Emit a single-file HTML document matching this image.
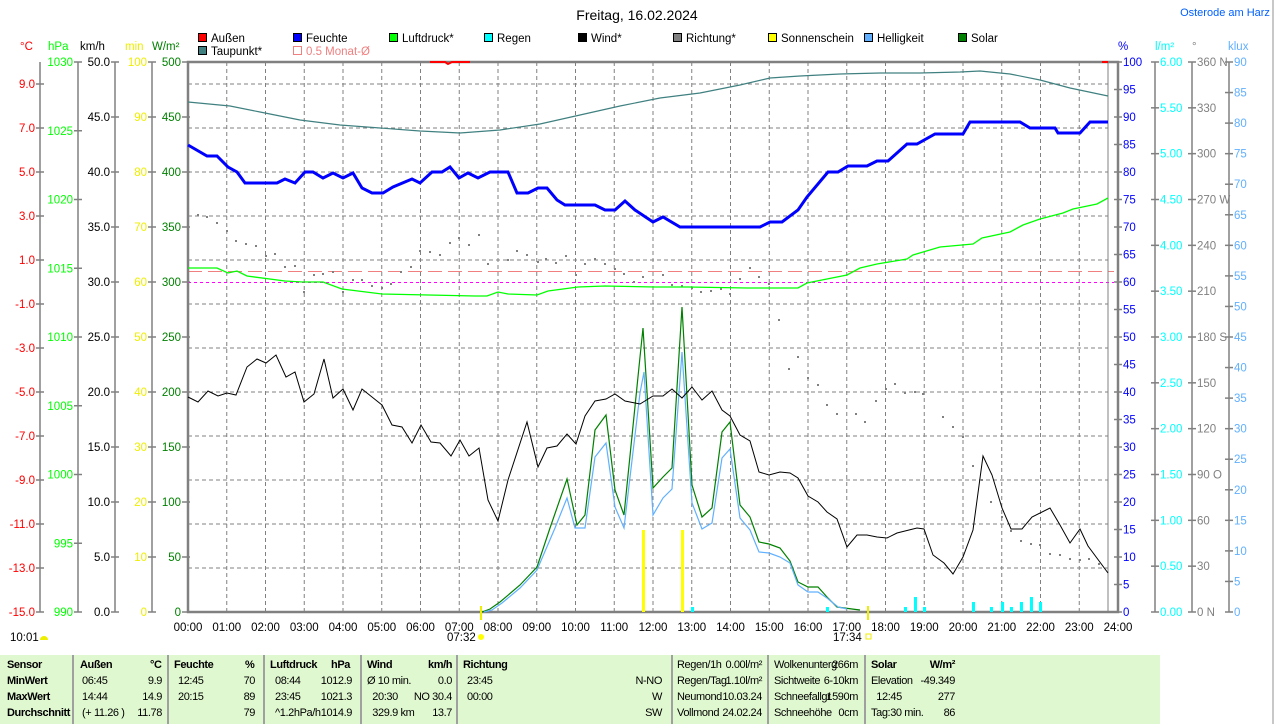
<!DOCTYPE html>
<html><head><meta charset="utf-8"><style>
body{margin:0;background:#fff;width:1274px;height:724px;overflow:hidden;font-family:"Liberation Sans",sans-serif}
svg text{font-family:"Liberation Sans",sans-serif;font-size:11.5px}
.tb{position:absolute;left:0;top:655px;width:1160px;height:69px;background:#e0f8d0}
.c{position:absolute;top:0;height:69px;border-left:2px solid #a0a0a0}
.t{position:absolute;font-size:11px;line-height:16px;white-space:nowrap;letter-spacing:-0.4px}
.b{font-weight:bold}
</style></head><body>
<svg width="1274" height="724" style="position:absolute;left:0;top:0">
<text x="637" y="20" text-anchor="middle" style="font-size:14px">Freitag, 16.02.2024</text>
<text x="1225" y="16" text-anchor="middle" fill="#0060ff" style="font-size:11px">Osterode am Harz</text>
<line x1="1273" y1="0" x2="1273" y2="724" stroke="#909090"/>
<g stroke="#000" stroke-width="1">
<rect x="198.5" y="33.5" width="8" height="8" fill="#f00"/>
<rect x="293.5" y="33.5" width="8" height="8" fill="#00f"/>
<rect x="389.5" y="33.5" width="8" height="8" fill="#0f0"/>
<rect x="484.5" y="33.5" width="8" height="8" fill="#0ff"/>
<rect x="578.5" y="33.5" width="8" height="8" fill="#000"/>
<rect x="673.5" y="33.5" width="8" height="8" fill="#808080"/>
<rect x="768.5" y="33.5" width="8" height="8" fill="#ff0"/>
<rect x="864.5" y="33.5" width="8" height="8" fill="#60b0ff"/>
<rect x="958.5" y="33.5" width="8" height="8" fill="#008000"/>
<rect x="198.5" y="46.5" width="8" height="8" fill="#408080"/>
</g>
<rect x="293.5" y="46.5" width="8" height="8" fill="none" stroke="#f08080"/>
<g>
<text x="211" y="42">Außen</text><text x="306" y="42">Feuchte</text><text x="402" y="42">Luftdruck*</text>
<text x="497" y="42">Regen</text><text x="591" y="42">Wind*</text><text x="686" y="42">Richtung*</text>
<text x="781" y="42">Sonnenschein</text><text x="877" y="42">Helligkeit</text><text x="971" y="42">Solar</text>
<text x="211" y="55">Taupunkt*</text><text x="306" y="55" fill="#f08080">0.5 Monat-Ø</text>
</g>
<text x="20" y="50" fill="#f00">°C</text><text x="48" y="50" fill="#0f0">hPa</text>
<text x="80" y="50">km/h</text><text x="125" y="50" fill="#ee0">min</text><text x="152" y="50" fill="#008000">W/m²</text>
<text x="1118" y="50" fill="#00f">%</text><text x="1155" y="50" fill="#0ff">l/m²</text>
<text x="1192" y="50" fill="#808080">°</text><text x="1228" y="50" fill="#60b0ff">klux</text>
<g stroke="#808080" stroke-width="1.5">
<line x1="40" y1="62" x2="40" y2="612"/><line x1="78" y1="62" x2="78" y2="612"/>
<line x1="115" y1="62" x2="115" y2="612"/><line x1="152" y1="62" x2="152" y2="612"/>
<line x1="1155" y1="62" x2="1155" y2="612"/><line x1="1192" y1="62" x2="1192" y2="612"/>
<line x1="1229" y1="62" x2="1229" y2="612"/>
</g>
<g id="ax" text-anchor="end"></g>
<g stroke="#808080" stroke-dasharray="4,3" stroke-width="1" id="grid"></g>
<line x1="188" y1="271.5" x2="1114" y2="271.5" stroke="#f08080" stroke-dasharray="14,6"/>
<line x1="188" y1="282.5" x2="1114" y2="282.5" stroke="#f0f" stroke-dasharray="3,3"/>
<line x1="1108" y1="62" x2="1108" y2="612" stroke="#808080" stroke-width="1"/>
<rect x="188" y="62" width="930" height="550" fill="none" stroke="#808080" stroke-width="2.5"/>
<g id="dots" fill="#808080"></g>
<polyline fill="none" stroke="#408080" stroke-width="1.2" points="188,102 230,106 260,112 300,120 340,125 380,128 420,131 460,133 500,130 540,124 580,115 620,106 660,98 700,93 740,85 770,78 800,76 840,74 880,73 920,73 960,72 980,71 1010,74 1040,80 1070,88 1108,96"/>
<polyline fill="none" stroke="#f00" stroke-width="2" points="430,62 445,62 448,64 452,62 470,62"/>
<polyline fill="none" stroke="#f00" stroke-width="2" points="1102,62 1108,62"/>
<polyline fill="none" stroke="#00f" stroke-width="3" points="188,145 207,156 217,156 228,167 237,172 245,183 277,183 285,179 295,183 305,172 313,172 323,178 333,173 343,178 353,173 362,188 372,193 383,193 393,187 412,179 420,183 432,172 442,172 450,167 459,178 468,173 478,178 490,172 508,172 517,193 528,193 538,188 547,188 557,200 565,205 595,205 605,210 615,210 625,201 635,210 653,222 663,217 680,227 760,227 770,222 782,222 798,210 807,197 828,172 838,172 848,166 867,166 877,161 888,161 907,144 917,144 935,134 963,134 970,122 1020,122 1030,128 1055,128 1058,133 1080,133 1090,122 1108,122"/>
<polyline fill="none" stroke="#0f0" stroke-width="1.3" points="188,268 217,268 228,273 237,271 247,276 285,281 302,282 323,282 342,289 382,294 475,296 487,296 498,292 508,294 537,295 548,291 578,287 605,286 655,287 688,287 747,288 798,288 807,283 847,275 860,268 877,264 907,259 913,255 940,247 973,244 982,238 1010,232 1023,225 1040,219 1063,213 1073,209 1097,204 1108,198"/>
<rect x="642" y="530" width="3" height="82" fill="#ff0"/>
<rect x="681" y="530" width="3" height="82" fill="#ff0"/>
<rect x="480" y="606" width="2" height="14" fill="#ee0"/>
<rect x="867" y="606" width="2" height="14" fill="#ee0"/>
<g fill="#0ff" id="rain"></g>
<polyline fill="none" stroke="#008000" stroke-width="1.2" points="482,612 490,609 500,602 520,585 537,567 550,528 567,479 577,525 585,515 595,430 606,415 615,490 624,515 640,357 643,328 653,488 663,477 672,468 682,307 692,485 702,517 712,508 722,432 730,422 740,505 750,517 759,542 769,544 780,548 790,561 798,582 808,587 818,587 827,597 837,607 852,609 860,610"/>
<polyline fill="none" stroke="#60b0ff" stroke-width="1.2" points="484,612 492,610 502,603 520,588 537,570 555,528 567,498 575,528 585,528 595,457 606,443 615,507 624,528 640,393 644,372 653,515 663,498 672,489 682,352 692,503 702,529 712,523 722,458 730,449 740,518 750,530 759,552 769,553 780,557 790,563 798,585 808,592 818,592 827,598 838,607 847,609"/>
<polyline fill="none" stroke="#000" stroke-width="1" points="188,397 198,402 208,391 218,396 227,393 236,395 247,367 257,359 266,363 276,355 286,377 295,372 304,402 314,394 324,359 333,398 343,389 353,410 362,389 382,405 392,425 402,427 412,443 421,425 431,442 440,443 451,456 460,440 469,456 479,448 488,500 498,521 508,480 527,422 538,467 547,448 557,446 567,434 576,444 585,416 595,401 606,399 615,394 625,401 635,403 640,404 653,396 663,396 672,389 682,398 692,387 702,400 712,391 722,410 730,416 740,435 750,441 759,472 769,475 780,472 790,473 798,478 808,496 818,502 827,512 837,519 847,547 857,535 867,535 877,537 887,538 897,533 917,528 924,529 933,555 944,563 953,574 963,557 973,530 983,456 992,475 1002,508 1011,529 1022,529 1032,517 1050,508 1060,525 1070,543 1080,529 1088,546 1108,573"/>
<g id="xl" text-anchor="middle"></g>
<text x="447" y="641">07:32</text><circle cx="481" cy="637" r="3" fill="#ff0"/>
<text x="833" y="641">17:34</text><rect x="866" y="634" width="5" height="5" fill="none" stroke="#ee0"/>
<text x="10" y="641">10:01</text><path d="M40,640 a4,4 0 0 1 8,0 z" fill="#ee0"/>
</svg>
<div class="tb">
<div class="c" style="left:72px"></div><div class="c" style="left:167px"></div><div class="c" style="left:263px"></div><div class="c" style="left:360px"></div><div class="c" style="left:456px"></div><div class="c" style="left:671px"></div><div class="c" style="left:767px"></div><div class="c" style="left:864px"></div>
<div class="t b" style="left:7px;top:2px">Sensor<br>MinWert<br>MaxWert<br>Durchschnitt</div>
<div class="t b" style="left:80px;top:2px">Außen</div><div class="t b" style="left:150px;top:2px">°C</div>
<div class="t" style="left:82px;top:18px">06:45<br>14:44<br>(+ 11.26 )</div>
<div class="t" style="right:998px;top:18px;text-align:right">9.9<br>14.9<br>11.78</div>
<div class="t b" style="left:174px;top:2px">Feuchte</div><div class="t b" style="left:245px;top:2px">%</div>
<div class="t" style="left:178px;top:18px">12:45<br>20:15</div>
<div class="t" style="right:905px;top:18px;text-align:right">70<br>89<br>79</div>
<div class="t b" style="left:270px;top:2px">Luftdruck</div><div class="t b" style="left:331px;top:2px">hPa</div>
<div class="t" style="left:275px;top:18px">08:44<br>23:45<br>^1.2hPa/h</div>
<div class="t" style="right:808px;top:18px;text-align:right">1012.9<br>1021.3<br>1014.9</div>
<div class="t b" style="left:367px;top:2px">Wind</div><div class="t b" style="left:428px;top:2px">km/h</div>
<div class="t" style="left:367px;top:18px">Ø 10 min.<br>&nbsp;&nbsp;20:30<br>&nbsp;&nbsp;329.9 km</div>
<div class="t" style="right:708px;top:18px;text-align:right">0.0<br>NO 30.4<br>13.7</div>
<div class="t b" style="left:463px;top:2px">Richtung</div>
<div class="t" style="left:467px;top:18px">23:45<br>00:00</div>
<div class="t" style="right:498px;top:18px;text-align:right">N-NO<br>W<br>SW</div>
<div class="t" style="left:677px;top:2px">Regen/1h<br>Regen/Tag<br>Neumond<br>Vollmond</div>
<div class="t" style="right:398px;top:2px;text-align:right">0.00l/m²<br>1.10l/m²<br>10.03.24<br>24.02.24</div>
<div class="t" style="left:774px;top:2px">Wolkenunterg<br>Sichtweite<br>Schneefallgr<br>Schneehöhe</div>
<div class="t" style="right:302px;top:2px;text-align:right">266m<br>6-10km<br>1590m<br>0cm</div>
<div class="t" style="left:871px;top:2px"><b>Solar</b><br>Elevation<br>&nbsp;&nbsp;12:45<br>Tag:30 min.</div>
<div class="t" style="right:205px;top:2px;text-align:right"><b>W/m²</b><br>-49.349<br>277<br>86</div>
</div>
<script>
var NS="http://www.w3.org/2000/svg";
function el(p,t,a,txt){var e=document.createElementNS(NS,t);for(var k in a)e.setAttribute(k,a[k]);if(txt!==undefined)e.textContent=txt;document.getElementById(p).appendChild(e);return e;}
function axis(x,vals,top,step,col,side){for(var i=0;i<vals.length;i++){var y=top+i*step;if(vals[i]===null)continue;
 el('ax','line',{x1:x-4,y1:y,x2:x+4,y2:y,stroke:'#808080','stroke-width':1.5});
 if(side=='l')el('ax','text',{x:x-5,y:y+4,fill:col},vals[i]);else el('ax','text',{x:x+5,y:y+4,fill:col,'text-anchor':'start'},vals[i]);}}
var v=[];v.push(null);for(var t=9;t>=-15;t-=2)v.push(t.toFixed(1));axis(40,v,40,44,'#f00','l');
v=[];for(var p=1030;p>=990;p-=5)v.push(p);axis(78,v,62,68.75,'#0f0','l');
v=[];for(var k=50;k>=0;k-=5)v.push(k.toFixed(1));axis(115,v,62,55,'#000','l');
v=[];for(var m=100;m>=0;m-=10)v.push(m);axis(152,v,62,55,'#ee0','l');
v=[];for(var w=500;w>=0;w-=50)v.push(w);axis(186,v,62,55,'#008000','l');
v=[];for(var h=100;h>=0;h-=5)v.push(h);axis(1118,v,62,27.5,'#00f','r');
v=[];for(var r=6;r>=-0.001;r-=0.5)v.push(Math.abs(r).toFixed(2));axis(1155,v,62,550/12,'#0ff','r');
v=['360 N','330','300','270 W','240','210','180 S','150','120','90 O','60','30','0 N'];axis(1192,v,62,550/12,'#808080','r');
v=[];for(var q=90;q>=0;q-=5)v.push(q);axis(1229,v,62,550/18,'#60b0ff','r');
for(var i=1;i<24;i++){var x=188+i*38.75;el('grid','line',{x1:x,y1:62,x2:x,y2:612});}
for(var y=84;y<612;y+=44)el('grid','line',{x1:188,y1:y,x2:1108,y2:y});
for(var i=0;i<=24;i++){var x=188+i*38.75;el('xl','text',{x:x,y:631},(i<10?'0':'')+i+':00');}
var d=[198,215,207,217,217,223,227,231,236,241,246,244,256,246,266,256,275,254,285,267,295,266,304,292,314,275,323,274,333,272,343,292,353,280,362,280,372,286,382,288,391,284,401,272,411,267,420,251,430,252,440,255,450,243,459,238,469,245,479,235,488,264,508,260,517,251,527,255,538,262,546,259,556,263,566,256,576,275,585,264,595,259,605,264,615,269,624,274,634,282,643,277,663,275,672,285,682,286,692,288,701,292,711,291,721,289,730,294,740,279,750,268,759,277,769,284,779,320,789,369,798,357,808,378,818,385,827,405,837,414,856,414,865,422,876,401,886,389,895,384,905,393,915,392,923,394,943,417,953,427,963,437,973,466,982,480,991,502,1002,517,1011,531,1021,541,1031,544,1040,545,1050,554,1060,555,1070,559,1080,560,1089,559,1099,564];
for(var i=0;i<d.length;i+=2)el('dots','rect',{x:d[i]-1,y:d[i+1]-1,width:2,height:2});
var rn=[692,607,827,607,905,607,915,597,924,607,973,602,991,607,1002,602,1011,607,1021,602,1031,597,1040,602];
for(var i=0;i<rn.length;i+=2)el('rain','rect',{x:rn[i]-1,y:rn[i+1],width:3,height:612-rn[i+1]});
</script>
</body></html>
